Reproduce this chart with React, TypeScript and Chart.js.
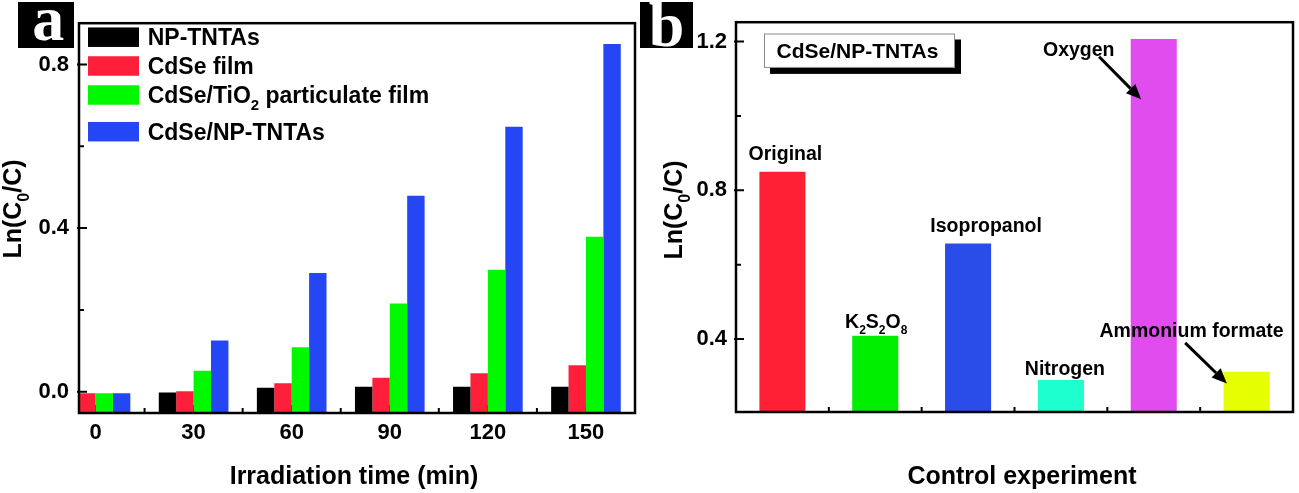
import React, { useEffect, useRef } from 'react';
import { Chart, registerables } from 'chart.js';

Chart.register(...registerables);

const SANS = '"Liberation Sans", Arial, Helvetica, sans-serif';
const SERIF = '"Liberation Serif", "Times New Roman", serif';

// ---------- Panel a data ----------
const TIMES = [0, 30, 60, 90, 120, 150];
const SERIES_A_LABELS = ['NP-TNTAs', 'CdSe film', 'CdSe/TiO_2 particulate film', 'CdSe/NP-TNTAs'];
const NP_TNTAS = [-0.004, -0.002, 0.010, 0.012, 0.012, 0.012];
const CDSE_FILM = [-0.004, 0.001, 0.021, 0.034, 0.045, 0.065];
const CDSE_TIO2 = [-0.004, 0.051, 0.109, 0.216, 0.298, 0.379];
const CDSE_NPTNTAS = [-0.004, 0.125, 0.290, 0.479, 0.648, 0.850];
const Y_TICKS_A = [0, 0.4, 0.8];
const Y_MINOR_A = [0.2, 0.6];
const X_MINOR_A = [15, 45, 75, 105, 135];
const X_TITLE_A = 'Irradiation time (min)';
const Y_TITLE = 'Ln(C_0/C)';

// ---------- Panel b data ----------
const CONDITIONS = ['Original', 'K_2S_2O_8', 'Isopropanol', 'Nitrogen', 'Oxygen', 'Ammonium formate'];
const LN_B = [0.850, 0.409, 0.657, 0.290, 1.207, 0.312];
const Y_TICKS_B = [0.4, 0.8, 1.2];
const Y_MINOR_B = [0.6, 1.0];
const X_MINOR_B = [0.5, 1.5, 2.5, 3.5, 4.5];
const X_TITLE_B = 'Control experiment';
const INSET_B = 'CdSe/NP-TNTAs';

// ---------- styles / layout (not data) ----------
const COLORS_A = ['#000000', '#ff1f3a', '#00f800', '#2446f4'];
const COLORS_B = ['#ff2035', '#00ee00', '#2a4ce8', '#1effd0', '#e04cee', '#e6ff00'];
const Y_RANGE_A = { min: -0.052, max: 0.901 };
const X_RANGE_A = { min: -5.05, max: 165 };
const Y_RANGE_B = { min: 0.204, max: 1.252 };
// label offsets (text centre relative to bar top-centre), px
const LABEL_OFFSETS_B = [
  [3, -19], [1, -15], [18, -18], [4, -12], [-75, 10], [-55, -42],
];
// arrows relative to bar top-centre: [x1, y1, x2, y2]
const ARROWS_B: Record<number, number[]> = {
  4: [-54.6, 17.8, -12.6, 60.4],
  5: [-61.4, -29, -19.7, 11.6],
};

type Seg = { t: string; sub: boolean };
function parseRich(s: string): Seg[] {
  const out: Seg[] = [];
  const re = /_(\d)/g;
  let last = 0;
  let m: RegExpExecArray | null;
  while ((m = re.exec(s))) {
    if (m.index > last) out.push({ t: s.slice(last, m.index), sub: false });
    out.push({ t: m[1], sub: true });
    last = m.index + m[0].length;
  }
  if (last < s.length) out.push({ t: s.slice(last), sub: false });
  return out;
}

function drawRich(
  ctx: CanvasRenderingContext2D,
  s: string,
  x: number,
  cy: number,
  size: number,
  align: 'left' | 'center',
  color = '#000'
) {
  const segs = parseRich(s);
  const subSize = Math.round(size * 0.64);
  const mainFont = `bold ${size}px ${SANS}`;
  const subFont = `bold ${subSize}px ${SANS}`;
  let total = 0;
  const widths = segs.map((sg) => {
    ctx.font = sg.sub ? subFont : mainFont;
    const w = ctx.measureText(sg.t).width;
    total += w;
    return w;
  });
  const baseline = cy + size * 0.358;
  let px = align === 'center' ? x - total / 2 : x;
  ctx.fillStyle = color;
  ctx.textAlign = 'left';
  ctx.textBaseline = 'alphabetic';
  segs.forEach((sg, i) => {
    ctx.font = sg.sub ? subFont : mainFont;
    ctx.fillText(sg.t, px, sg.sub ? baseline + size * 0.3 : baseline);
    px += widths[i];
  });
}

function drawTicks(chart: any, xMajor: number[], xMinor: number[], yMajor: number[], yMinor: number[]) {
  const { ctx, chartArea: a, scales } = chart;
  ctx.save();
  ctx.strokeStyle = '#000';
  ctx.lineWidth = 2;
  ctx.beginPath();
  yMajor.forEach((v) => {
    const p = scales.y.getPixelForValue(v);
    ctx.moveTo(a.left - 2, p);
    ctx.lineTo(a.left + 8, p);
  });
  yMinor.forEach((v) => {
    const p = scales.y.getPixelForValue(v);
    ctx.moveTo(a.left, p);
    ctx.lineTo(a.left + 5, p);
  });
  xMajor.forEach((v) => {
    const p = scales.x.getPixelForValue(v);
    ctx.moveTo(p, a.bottom);
    ctx.lineTo(p, a.bottom - 8);
  });
  xMinor.forEach((v) => {
    const p = scales.x.getPixelForValue(v);
    ctx.moveTo(p, a.bottom);
    ctx.lineTo(p, a.bottom - 5);
  });
  ctx.stroke();
  ctx.restore();
}

function drawFrame(chart: any) {
  const { ctx, chartArea: a } = chart;
  ctx.save();
  ctx.strokeStyle = '#000';
  ctx.lineWidth = 2.5;
  ctx.strokeRect(a.left, a.top, a.right - a.left, a.bottom - a.top);
  ctx.restore();
}

function drawYTitle(ctx: CanvasRenderingContext2D, text: string, x: number, y: number) {
  ctx.save();
  ctx.translate(x, y);
  ctx.rotate(-Math.PI / 2);
  drawRich(ctx, text, 0, 0, 25, 'center');
  ctx.restore();
}

function drawLetter(ctx: CanvasRenderingContext2D, letter: string, bx: number, by: number, bw: number, bh: number, cx: number, base: number) {
  ctx.save();
  ctx.fillStyle = '#000';
  ctx.fillRect(bx, by, bw, bh);
  ctx.fillStyle = '#fff';
  ctx.font = `bold 64px ${SERIF}`;
  ctx.textAlign = 'center';
  ctx.textBaseline = 'alphabetic';
  ctx.fillText(letter, cx, base);
  ctx.restore();
}

function drawArrow(ctx: CanvasRenderingContext2D, x1: number, y1: number, x2: number, y2: number) {
  const ang = Math.atan2(y2 - y1, x2 - x1);
  const L = 15;
  const W = 6.5;
  const bx = x2 - L * Math.cos(ang);
  const by = y2 - L * Math.sin(ang);
  ctx.save();
  ctx.strokeStyle = '#000';
  ctx.fillStyle = '#000';
  ctx.lineWidth = 3;
  ctx.beginPath();
  ctx.moveTo(x1, y1);
  ctx.lineTo(bx, by);
  ctx.stroke();
  ctx.beginPath();
  ctx.moveTo(x2, y2);
  ctx.lineTo(bx + W * Math.sin(ang), by - W * Math.cos(ang));
  ctx.lineTo(bx - W * Math.sin(ang), by + W * Math.cos(ang));
  ctx.closePath();
  ctx.fill();
  ctx.restore();
}

const decorA = {
  id: 'decorA',
  beforeDatasetsDraw(chart: any) {
    drawTicks(chart, TIMES, X_MINOR_A, Y_TICKS_A, Y_MINOR_A);
  },
  afterDatasetsDraw(chart: any) {
    drawFrame(chart);
  },
  afterDraw(chart: any) {
    const { ctx, chartArea: a } = chart;
    // legend
    const rowCY = [37.2, 66, 95, 131.7];
    chart.data.datasets.forEach((ds: any, i: number) => {
      ctx.save();
      ctx.fillStyle = ds.backgroundColor;
      ctx.fillRect(a.left + 9, rowCY[i] - 9.75, 51, 19.5);
      ctx.restore();
      drawRich(ctx, ds.label, a.left + 68.7, rowCY[i], 23, 'left');
    });
    drawRich(ctx, X_TITLE_A, 354, 475, 25, 'center');
    drawYTitle(ctx, Y_TITLE, 12.3, 209);
    drawLetter(ctx, 'a', 18, 2, 56, 46, 48.3, 40);
  },
};

const decorB = {
  id: 'decorB',
  beforeDatasetsDraw(chart: any) {
    drawTicks(chart, CONDITIONS.map((_, i) => i), X_MINOR_B, Y_TICKS_B, Y_MINOR_B);
  },
  afterDatasetsDraw(chart: any) {
    drawFrame(chart);
  },
  afterDraw(chart: any) {
    const { ctx, chartArea: a } = chart;
    const meta = chart.getDatasetMeta(0);
    meta.data.forEach((el: any, i: number) => {
      const [dx, dy] = LABEL_OFFSETS_B[i];
      drawRich(ctx, chart.data.labels[i], el.x + dx, el.y + dy, 19.5, 'center');
      const ar = ARROWS_B[i];
      if (ar) drawArrow(ctx, el.x + ar[0], el.y + ar[1], el.x + ar[2], el.y + ar[3]);
    });
    // inset box
    const bx = a.left + 28;
    const by = a.top + 11.3;
    const bw = 191;
    const bh = 34.4;
    ctx.save();
    ctx.fillStyle = '#000';
    ctx.fillRect(bx + 6, by + 6, bw, bh);
    ctx.fillStyle = '#fff';
    ctx.fillRect(bx, by, bw, bh);
    ctx.strokeStyle = '#8a8a8a';
    ctx.lineWidth = 1;
    ctx.strokeRect(bx + 0.5, by + 0.5, bw - 1, bh - 1);
    ctx.restore();
    drawRich(ctx, INSET_B, bx + bw / 2 - 2, by + bh / 2, 21, 'center');
    drawRich(ctx, X_TITLE_B, 382, 475, 25, 'center');
    drawYTitle(ctx, Y_TITLE, 33.5, 210);
    drawLetter(ctx, 'b', 0, 2, 53, 46, 26.5, 46);
  },
};

const tickFont = { family: SANS, size: 22, weight: 'bold' as const };

function configA(): any {
  const series = [NP_TNTAS, CDSE_FILM, CDSE_TIO2, CDSE_NPTNTAS];
  return {
    type: 'bar',
    data: {
      datasets: series.map((vals, k) => ({
        label: SERIES_A_LABELS[k],
        data: TIMES.map((t, i) => ({ x: t, y: vals[i] })),
        backgroundColor: COLORS_A[k],
        base: Y_RANGE_A.min,
        clip: 0,
        barPercentage: 1,
        categoryPercentage: 0.71,
      })),
    },
    options: {
      animation: false,
      responsive: false,
      devicePixelRatio: 1,
      layout: { padding: { left: 0, right: 5, top: 23, bottom: 0 } },
      plugins: { legend: { display: false }, tooltip: { enabled: false }, title: { display: false } },
      scales: {
        x: {
          type: 'linear',
          offset: false,
          min: X_RANGE_A.min,
          max: X_RANGE_A.max,
          grid: { display: false, drawTicks: false, offset: false },
          border: { display: false },
          afterBuildTicks: (s: any) => {
            s.ticks = TIMES.map((v) => ({ value: v }));
          },
          ticks: {
            font: tickFont,
            color: '#000',
            padding: 7,
            maxRotation: 0,
            autoSkip: false,
            callback: (v: any) => String(v),
          },
          afterFit: (s: any) => {
            s.height = 80;
          },
        },
        y: {
          type: 'linear',
          min: Y_RANGE_A.min,
          max: Y_RANGE_A.max,
          grid: { display: false, drawTicks: false },
          border: { display: false },
          afterBuildTicks: (s: any) => {
            s.ticks = Y_TICKS_A.map((v) => ({ value: v }));
          },
          ticks: {
            font: tickFont,
            color: '#000',
            padding: 10,
            callback: (v: any) => Number(v).toFixed(1),
          },
          afterFit: (s: any) => {
            s.width = 79;
          },
        },
      },
    },
    plugins: [decorA],
  };
}

function configB(): any {
  return {
    type: 'bar',
    data: {
      labels: CONDITIONS,
      datasets: [
        {
          label: INSET_B,
          data: LN_B,
          backgroundColor: COLORS_B,
          base: Y_RANGE_B.min,
          categoryPercentage: 1,
          barPercentage: 0.496,
        },
      ],
    },
    options: {
      animation: false,
      responsive: false,
      devicePixelRatio: 1,
      layout: { padding: { left: 0, right: 6, top: 22, bottom: 0 } },
      plugins: { legend: { display: false }, tooltip: { enabled: false }, title: { display: false } },
      scales: {
        x: {
          type: 'category',
          grid: { display: false, drawTicks: false },
          border: { display: false },
          ticks: { display: false },
          afterFit: (s: any) => {
            s.height = 81;
          },
        },
        y: {
          type: 'linear',
          min: Y_RANGE_B.min,
          max: Y_RANGE_B.max,
          grid: { display: false, drawTicks: false },
          border: { display: false },
          afterBuildTicks: (s: any) => {
            s.ticks = Y_TICKS_B.map((v) => ({ value: v }));
          },
          ticks: {
            font: tickFont,
            color: '#000',
            padding: 9,
            callback: (v: any) => Number(v).toFixed(1),
          },
          afterFit: (s: any) => {
            s.width = 96;
          },
        },
      },
    },
    plugins: [decorB],
  };
}

export default function App() {
  const refA = useRef<HTMLCanvasElement>(null);
  const refB = useRef<HTMLCanvasElement>(null);
  useEffect(() => {
    const ca = new Chart(refA.current as HTMLCanvasElement, configA());
    const cb = new Chart(refB.current as HTMLCanvasElement, configB());
    return () => {
      ca.destroy();
      cb.destroy();
    };
  }, []);
  return (
    <div
      style={{
        position: 'absolute',
        left: 0,
        top: 0,
        width: 1299,
        height: 493,
        background: '#fff',
        overflow: 'hidden',
      }}
    >
      <canvas
        ref={refA}
        width={640}
        height={493}
        style={{ position: 'absolute', left: 0, top: 0, width: 640, height: 493 }}
      />
      <canvas
        ref={refB}
        width={659}
        height={493}
        style={{ position: 'absolute', left: 640, top: 0, width: 659, height: 493 }}
      />
    </div>
  );
}
